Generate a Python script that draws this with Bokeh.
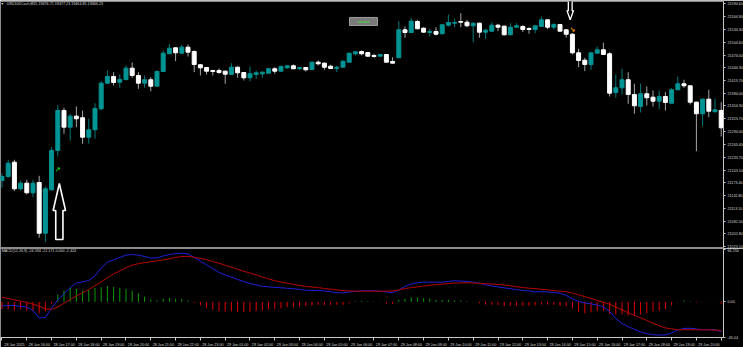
from bokeh.plotting import figure
from bokeh.models import Range1d, FixedTicker, NumeralTickFormatter, Label
from bokeh.layouts import column
from bokeh.embed import file_html
from bokeh.resources import INLINE

# ---------------- data (M15 bars, 28 Jan 15:00 .. 29 Jan 21:00) ----------------
open_ = [21178.5, 21187.9, 21221.6, 21158.9, 21172.2, 21149.6, 21173.8, 21054.4, 21156.6, 21249.2,
         21343.4, 21304.1, 21330.0, 21326.2, 21280.5, 21297.9, 21347.4, 21407.7, 21423.4, 21410.0,
         21416.4, 21443.0, 21425.8, 21407.7, 21415.7, 21400.6, 21435.2, 21476.9, 21491.0, 21478.3,
         21492.4, 21482.3, 21451.0, 21444.6, 21437.6, 21437.6, 21435.9, 21428.1, 21445.3, 21432.8,
         21420.4, 21428.1, 21429.8, 21431.2, 21441.6, 21435.9, 21443.9, 21448.6, 21441.6, 21444.6,
         21439.9, 21457.1, 21454.8, 21447.7, 21442.3, 21445.3, 21457.1, 21476.9, 21482.3, 21479.9,
         21472.9, 21471.2, 21475.2, 21458.8, 21467.5, 21533.4, 21527.0, 21552.9, 21537.2, 21527.0,
         21529.4, 21524.0, 21544.2, 21548.9, 21552.9, 21551.3, 21542.8, 21548.9, 21527.8, 21530.1,
         21544.2, 21541.9, 21521.6, 21539.5, 21541.2, 21536.5, 21534.1, 21541.2, 21556.9, 21539.5,
         21545.9, 21533.4, 21523.0, 21479.2, 21461.8, 21451.7, 21478.3, 21486.3, 21476.9, 21385.8,
         21396.8, 21415.7, 21381.0, 21352.8, 21382.7, 21374.7, 21365.3, 21376.3, 21360.6, 21392.1,
         21406.3, 21401.5, 21362.9, 21335.6, 21370.0, 21340.3, 21343.4]
high = [21195.0, 21227.3, 21227.3, 21178.5, 21180.2, 21180.2, 21189.6, 21164.4, 21257.0, 21355.9,
        21349.7, 21335.6, 21352.8, 21343.4, 21323.8, 21360.6, 21412.4, 21437.6, 21433.6, 21428.1,
        21449.3, 21456.4, 21433.6, 21425.8, 21421.8, 21437.6, 21484.7, 21500.4, 21492.4, 21498.1,
        21498.8, 21484.7, 21452.9, 21445.8, 21439.2, 21442.3, 21437.6, 21454.8, 21447.0, 21434.0,
        21447.0, 21437.6, 21435.2, 21443.4, 21445.3, 21449.3, 21449.3, 21451.7, 21445.3, 21445.3,
        21458.8, 21461.1, 21456.4, 21451.0, 21448.6, 21461.1, 21479.9, 21483.0, 21484.7, 21481.1,
        21476.9, 21476.4, 21476.4, 21468.9, 21553.7, 21541.2, 21561.7, 21556.9, 21538.8, 21535.8,
        21539.5, 21545.9, 21569.4, 21559.3, 21572.5, 21556.9, 21550.6, 21550.6, 21535.8, 21551.3,
        21547.5, 21543.5, 21548.9, 21548.9, 21544.2, 21539.5, 21543.5, 21564.7, 21557.7, 21548.9,
        21547.1, 21534.1, 21525.4, 21488.7, 21467.5, 21479.9, 21494.1, 21502.8, 21480.7, 21428.1,
        21441.6, 21433.6, 21406.3, 21406.3, 21399.9, 21390.5, 21390.5, 21386.5, 21396.8, 21423.4,
        21415.7, 21402.2, 21364.6, 21371.6, 21392.1, 21370.9, 21362.9]
low = [21162.0, 21185.6, 21153.3, 21155.0, 21145.6, 21139.2, 21043.6, 21033.2, 21155.0, 21235.1,
       21288.5, 21272.7, 21304.1, 21265.0, 21265.0, 21276.7, 21343.4, 21406.3, 21402.2, 21396.8,
       21414.0, 21420.4, 21394.5, 21396.8, 21388.8, 21399.9, 21433.6, 21476.4, 21459.5, 21476.9,
       21470.5, 21433.6, 21425.8, 21428.1, 21425.8, 21429.8, 21406.3, 21427.0, 21420.4, 21414.0,
       21411.7, 21418.0, 21420.4, 21430.5, 21429.8, 21435.2, 21441.6, 21440.6, 21439.2, 21435.2,
       21439.2, 21449.3, 21439.2, 21441.1, 21433.6, 21444.6, 21456.4, 21472.9, 21472.9, 21470.5,
       21467.5, 21470.5, 21456.4, 21454.0, 21467.0, 21514.6, 21526.3, 21534.8, 21527.0, 21517.6,
       21520.0, 21523.5, 21541.2, 21539.5, 21539.5, 21539.5, 21504.2, 21514.6, 21512.2, 21529.4,
       21530.1, 21520.0, 21520.7, 21538.1, 21527.8, 21524.0, 21525.4, 21540.5, 21534.8, 21533.4,
       21529.4, 21514.6, 21475.2, 21445.3, 21435.9, 21439.2, 21477.6, 21474.1, 21376.3, 21373.3,
       21381.0, 21359.2, 21335.6, 21338.7, 21355.1, 21352.8, 21346.4, 21343.4, 21359.9, 21391.2,
       21396.8, 21357.5, 21247.5, 21305.7, 21327.6, 21339.4, 21282.1]
close = [21187.9, 21219.3, 21158.9, 21172.2, 21149.6, 21172.2, 21054.4, 21158.9, 21249.2, 21343.4,
         21304.1, 21330.0, 21323.8, 21280.5, 21297.9, 21348.1, 21407.7, 21423.4, 21409.3, 21416.4,
         21443.0, 21425.8, 21407.7, 21415.7, 21400.6, 21435.2, 21478.3, 21490.1, 21479.2, 21492.4,
         21480.7, 21451.7, 21443.9, 21435.9, 21435.2, 21432.8, 21428.9, 21445.3, 21432.1, 21420.4,
         21429.8, 21432.1, 21433.6, 21441.6, 21435.9, 21447.0, 21448.6, 21441.6, 21444.6, 21439.2,
         21457.1, 21453.3, 21445.3, 21442.3, 21445.3, 21459.5, 21478.3, 21481.6, 21476.9, 21471.2,
         21470.5, 21475.2, 21457.1, 21454.8, 21533.4, 21527.0, 21553.7, 21535.8, 21527.8, 21529.4,
         21523.0, 21545.2, 21550.6, 21550.6, 21551.3, 21542.8, 21548.9, 21527.8, 21532.5, 21544.2,
         21539.5, 21521.6, 21539.5, 21542.8, 21534.1, 21534.1, 21542.8, 21556.9, 21539.5, 21545.9,
         21530.1, 21523.0, 21479.2, 21461.1, 21451.7, 21479.2, 21486.3, 21475.2, 21384.1, 21396.8,
         21415.7, 21381.0, 21354.4, 21382.7, 21373.3, 21365.3, 21376.3, 21362.2, 21392.1, 21406.3,
         21401.5, 21362.9, 21335.6, 21370.0, 21341.7, 21345.0, 21302.6]

macd_main = [-5.2, -4.6, -4.6, -5.8, -6.7, -10.9, -20.4, -19.7, -7.7, 2.4,
             10.2, 18.2, 23.9, 25.2, 27.1, 32.8, 42.9, 50.2, 53.2, 56.2,
             59.1, 59.9, 59.1, 57.4, 55.5, 55.5, 58.0, 59.9, 61.0, 61.6,
             60.6, 56.2, 51.5, 46.7, 41.9, 37.4, 34.0, 31.5, 28.3, 25.5,
             23.3, 21.4, 19.7, 19.0, 18.3, 17.8, 17.2, 16.6, 15.7, 14.7,
             14.4, 14.4, 13.8, 12.8, 11.6, 11.3, 12.5, 13.2, 13.7, 14.0,
             13.8, 13.5, 12.5, 11.5, 15.0, 19.5, 22.6, 24.2, 24.9, 24.9,
             24.9, 24.9, 25.8, 26.7, 26.3, 25.8, 25.0, 23.3, 21.6, 20.2,
             18.8, 17.7, 16.7, 15.4, 14.4, 13.8, 12.6, 12.9, 12.6, 11.9,
             10.9, 8.1, 3.9, 0.5, -1.4, -2.5, -4.0, -6.4, -12.1, -21.0,
             -27.3, -31.4, -34.9, -38.1, -40.3, -41.5, -42.0, -41.9, -39.3, -35.8,
             -33.6, -33.4, -34.3, -35.2, -35.3, -35.3, -37.7]
macd_signal = [5.6, 4.3, 2.5, 0.9, -0.8, -2.9, -5.4, -9.0, -9.4, -6.5,
               -1.8, 3.0, 7.5, 11.5, 15.7, 20.4, 25.2, 30.6, 35.3, 39.2,
               43.1, 46.5, 48.3, 49.7, 50.8, 51.9, 53.1, 54.6, 56.2, 57.4,
               57.5, 56.4, 54.9, 53.4, 51.1, 48.8, 46.3, 43.8, 41.2, 38.8,
               36.4, 34.0, 31.4, 29.0, 26.7, 25.0, 23.6, 22.1, 20.7, 19.6,
               18.8, 18.0, 16.9, 16.1, 15.1, 14.2, 13.8, 13.5, 13.5, 13.5,
               13.5, 13.5, 13.5, 13.8, 15.1, 16.9, 18.0, 19.0, 20.0, 21.0,
               21.8, 22.5, 23.1, 23.8, 24.0, 24.2, 23.9, 23.3, 22.9, 22.5,
               22.0, 21.4, 20.4, 19.1, 18.1, 17.3, 16.7, 15.9, 15.2, 14.4,
               13.5, 12.9, 11.0, 9.0, 6.5, 4.3, 1.8, -0.5, -2.9, -6.6,
               -10.1, -13.7, -17.2, -20.2, -23.5, -26.9, -30.1, -33.0, -34.1, -35.3,
               -35.3, -35.3, -35.3, -35.3, -35.4, -35.7, -36.2]
macd_hist = [-9.3, -9.3, -11.0, -9.7, -11.0, -11.8, -14.3, -11.8, -2.5, 9.3,
             14.3, 17.7, 16.4, 14.3, 15.2, 17.7, 18.6, 20.2, 18.6, 17.7,
             16.4, 14.3, 11.0, 6.7, 3.0, 1.7, 3.8, 5.1, 3.8, 3.4,
             1.7, -1.3, -4.6, -8.0, -10.1, -11.8, -12.6, -11.8, -12.6, -12.6,
             -12.6, -11.8, -11.0, -9.7, -9.3, -8.0, -6.7, -6.7, -5.9, -5.5,
             -4.6, -3.8, -4.2, -4.2, -3.8, -3.8, -1.7, 0.8, 1.3, 0.8,
             0.5, 0.3, -2.5, -2.5, 2.5, 3.8, 5.9, 5.9, 4.6, 3.8,
             2.5, 2.5, 2.5, 1.7, 1.7, 0.8, 0.3, -1.7, -3.4, -3.8,
             -4.2, -5.5, -5.1, -5.1, -5.1, -5.1, -4.6, -3.4, -3.4, -3.8,
             -5.1, -5.9, -8.4, -12.6, -14.3, -13.1, -11.8, -11.0, -15.2, -16.0,
             -16.0, -17.3, -17.3, -16.0, -14.3, -12.2, -11.0, -9.3, -4.2, -0.5,
             1.7, 0.8, -0.8, -0.4, -0.4, -0.4, -2.4]

price_ticks = [21594.60, 21564.90, 21534.30, 21504.60, 21474.00, 21444.30, 21413.70,
               21384.00, 21354.30, 21323.70, 21294.00, 21263.40, 21233.70, 21203.10,
               21173.40, 21142.80, 21113.10, 21082.50, 21052.80, 21023.10]
macd_ticks = [66.256, 0.0, -45.04]
macd_tick_labels = ["66.256", "0.00", "-45.04"]
time_label_bars = list(range(0, 117, 4))
time_labels = ["28 Jan 2025", "28 Jan 16:00", "28 Jan 17:00", "28 Jan 18:00", "28 Jan 19:00",
               "28 Jan 20:00", "28 Jan 21:00", "28 Jan 22:00", "28 Jan 23:00",
               "29 Jan 01:00", "29 Jan 02:00", "29 Jan 03:00", "29 Jan 04:00", "29 Jan 05:00",
               "29 Jan 06:00", "29 Jan 07:00", "29 Jan 08:00", "29 Jan 09:00", "29 Jan 10:00",
               "29 Jan 11:00", "29 Jan 12:00", "29 Jan 13:00", "29 Jan 14:00", "29 Jan 15:00",
               "29 Jan 16:00", "29 Jan 17:00", "29 Jan 18:00", "29 Jan 19:00", "29 Jan 20:00",
               "29 Jan 21:00"]

header_text = "USD100Cash,M15  19476.71 19477.23 19464.85 19466.23"
macd_text = "MACD(12,26,9) -24.594 -22.171 0.000 -2.424"

# signal objects: (bar, price of arrow tip)
buy_signal = (9.25, 21171.5)
sell_signal = (91.65, 21557.0)
buy_dot = (9.0, 21204.0)
sell_dot = (92.0, 21534.0)
label_box = (56.05, 60.56, 21543.5, 21562.4, "arrows")

# ---------------- styling ----------------
BG = "#000000"
BULL = "#009494"
BEAR = "#ffffff"
BULL_WICK = "#007a7a"
BEAR_WICK = "#a6a6a6"
AX = "#c8c8c8"
TXT = "#d4d4d4"
FONT = "Liberation Sans"
FS = "3.7px"
FW = 723
BAR_PX = 6.2
PRICE_PX = 2.355

n = len(close)
idx = list(range(n))
x_rng = Range1d(-0.24, 116.37)

p = figure(frame_width=FW, frame_height=246, x_range=x_rng, y_range=Range1d(21020.7, 21600.0),
           x_axis_location=None, y_axis_location="right", output_backend="svg",
           toolbar_location=None, min_border_left=0, min_border_right=20,
           min_border_top=1, min_border_bottom=1, background_fill_color=BG,
           border_fill_color=BG, outline_line_color="#8c8c8c", outline_line_width=1)
p.grid.visible = False
ya = p.yaxis[0]
ya.ticker = FixedTicker(ticks=price_ticks)
ya.formatter = NumeralTickFormatter(format="0.00")
ya.major_label_text_font_size = FS
ya.major_label_text_font = FONT
ya.major_label_text_color = TXT
ya.axis_line_color = AX
ya.major_tick_line_color = AX
ya.major_tick_out = 2
ya.major_tick_in = 0
ya.minor_tick_line_color = None
ya.major_label_standoff = 2

bull = [c >= o for o, c in zip(open_, close)]
body_col = [BULL if b else BEAR for b in bull]
wick_col = [BULL_WICK if b else BEAR_WICK for b in bull]
p.segment(x0=idx, y0=low, x1=idx, y1=high, color=wick_col, line_width=1)
p.vbar(x=idx, width=0.64, top=[max(o, c) for o, c in zip(open_, close)],
       bottom=[min(o, c) for o, c in zip(open_, close)],
       fill_color=body_col, line_color=body_col, line_width=1)


def arrow(bar, tip, head_hw, shaft_hw, head_h, total_h, direction):
    d = 1 if direction == "up" else -1
    hx, sx = head_hw / BAR_PX, shaft_hw / BAR_PX
    hh, th = head_h * PRICE_PX, total_h * PRICE_PX
    xs = [bar, bar + hx, bar + sx, bar + sx, bar - sx, bar - sx, bar - hx]
    ys = [tip, tip - d * hh, tip - d * hh, tip - d * th, tip - d * th, tip - d * hh, tip - d * hh]
    return xs, ys


bx, by = arrow(buy_signal[0], buy_signal[1], 6.2, 3.6, 27, 56, "up")
p.patch(bx, by, fill_color=BG, line_color="#ffffff", line_width=1.6)
sx_, sy_ = arrow(sell_signal[0], sell_signal[1], 3.2, 1.9, 9, 24, "down")
p.patch(sx_, sy_, fill_color=BG, line_color="#ffffff", line_width=1.3)

p.add_layout(Label(x=buy_dot[0], y=buy_dot[1], text="\u2197", text_color="#22dd22",
                   text_font="DejaVu Sans", text_font_size="7px", text_font_style="bold",
                   text_align="center", text_baseline="middle"))
p.add_layout(Label(x=sell_dot[0], y=sell_dot[1], text="\u2198", text_color="#ffa500",
                   text_font="DejaVu Sans", text_font_size="7px", text_font_style="bold",
                   text_align="center", text_baseline="middle"))

l0, r0, b0, t0, box_txt = label_box
p.quad(left=[l0], right=[r0], bottom=[b0], top=[t0], fill_color="#7a7a7a",
       line_color="#9c9c9c", line_width=1)
p.add_layout(Label(x=(l0 + r0) / 2, y=(b0 + t0) / 2, text=box_txt, text_color="#33ee33",
                   text_font=FONT, text_font_size="4px", text_align="center",
                   text_baseline="middle"))

p.add_layout(Label(x=0.75, y=21594.6, text=header_text, text_color=TXT, text_font=FONT,
                   text_font_size=FS, text_align="left", text_baseline="middle"))
p.add_layout(Label(x=-0.1, y=21594.6, text="\u25be", text_color=TXT, text_font="DejaVu Sans",
                   text_font_size="4px", text_align="left", text_baseline="middle"))

# ---------------- MACD panel ----------------
m = figure(frame_width=FW, frame_height=89, x_range=x_rng, y_range=Range1d(-45.1, 67.5),
           x_axis_location="below", y_axis_location="right", output_backend="svg",
           toolbar_location=None, min_border_left=0, min_border_right=20,
           min_border_top=0, min_border_bottom=10, background_fill_color=BG,
           border_fill_color=BG, outline_line_color="#8c8c8c", outline_line_width=1)
m.grid.visible = False
hist_col = ["#0b9b0b" if v >= 0 else "#e00000" for v in macd_hist]
m.segment(x0=idx, y0=[0] * n, x1=idx, y1=macd_hist, color=hist_col, line_width=1)
m.line(idx, macd_main, color="#2020d8", line_width=1)
m.line(idx, macd_signal, color="#b80000", line_width=1)

my = m.yaxis[0]
my.ticker = FixedTicker(ticks=macd_ticks)
my.major_label_overrides = {t: s for t, s in zip(macd_ticks, macd_tick_labels)}
my.major_label_text_font_size = FS
my.major_label_text_font = FONT
my.major_label_text_color = TXT
my.axis_line_color = AX
my.major_tick_line_color = AX
my.major_tick_out = 2
my.major_tick_in = 0
my.minor_tick_line_color = None
my.major_label_standoff = 2

LABEL_SHIFT = 12.5 / BAR_PX  # MT4 labels start just right of their tick
mx = m.xaxis[0]
lab_pos = [b + LABEL_SHIFT for b in time_label_bars]
shown = [(pos, s) for pos, s in zip(lab_pos, time_labels) if pos <= x_rng.end]
mx.ticker = FixedTicker(ticks=[pos for pos, _ in shown], minor_ticks=time_label_bars)
mx.major_label_overrides = {pos: s for pos, s in shown}
mx.major_tick_line_color = None
mx.major_tick_out = 0
mx.major_tick_in = 0
mx.minor_tick_line_color = AX
mx.minor_tick_out = 3
mx.minor_tick_in = 0
mx.axis_line_color = AX
mx.major_label_text_font_size = FS
mx.major_label_text_font = FONT
mx.major_label_text_color = TXT
mx.major_label_standoff = 2
for pos, s in zip(lab_pos, time_labels):
    if pos > x_rng.end:
        m.add_layout(Label(x=pos - LABEL_SHIFT + 0.1, y=-45.1 - 4.4 * 1.266, text=s,
                           text_color=TXT, text_font=FONT, text_font_size=FS,
                           text_align="left", text_baseline="middle"))

m.add_layout(Label(x=-0.05, y=63.8, text=macd_text, text_color=TXT, text_font=FONT,
                   text_font_size=FS, text_align="left", text_baseline="middle"))

layout = column(p, m, spacing=0)
open("out.html", "w").write(file_html(layout, INLINE))
